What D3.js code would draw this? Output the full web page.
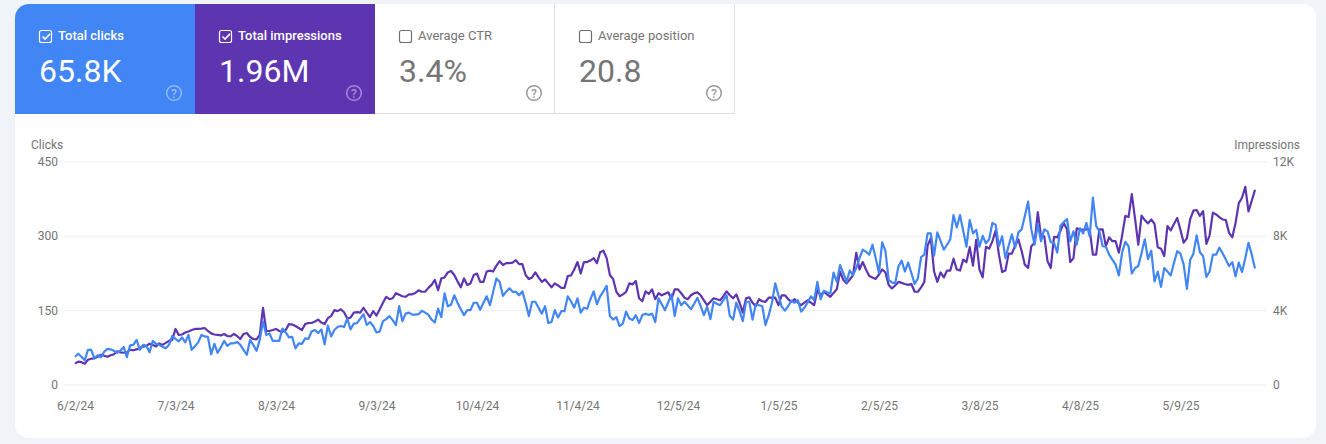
<!DOCTYPE html>
<html><head><meta charset="utf-8">
<script src="https://cdn.jsdelivr.net/npm/d3@7"></script>
<style>html,body{margin:0;padding:0;background:#f0f4f9;overflow:hidden}svg{display:block;font-family:Roboto,sans-serif}</style>
</head><body><svg id="c" width="1326" height="444"></svg>
<script>
const startDate = "2024-06-02";
const clicks = [
56,62,56,49,70,70,53,59,55,66,
72,71,68,64,68,76,55,79,80,90,
70,80,78,65,88,82,80,76,73,80,
98,92,87,95,85,100,70,77,85,100,
97,96,61,82,64,75,88,78,83,83,
86,80,70,60,90,80,68,90,127,100,
103,88,88,88,113,105,95,96,73,83,
82,93,92,107,110,104,111,81,119,97,
110,116,118,116,133,111,123,124,133,142,
120,126,118,105,107,128,132,138,130,120,
158,128,143,145,141,141,142,149,145,141,
131,125,153,136,184,158,161,180,165,152,
140,150,150,165,165,151,165,178,160,187,
214,207,179,187,194,187,187,180,188,165,
138,167,167,155,143,158,124,126,150,135,
148,148,178,168,155,174,145,155,153,172,
188,162,178,188,199,138,131,136,118,123,
147,133,130,140,124,140,143,140,143,126,
174,162,150,166,182,138,174,160,167,160,
152,163,175,158,140,157,132,167,163,160,
170,180,138,131,165,148,128,167,167,131,
162,160,158,120,140,165,204,180,157,149,
158,169,165,170,147,155,165,178,170,207,
172,189,186,184,226,207,241,225,207,230,
221,235,255,272,268,262,282,255,225,287,
269,211,206,204,238,250,228,246,225,203,
214,257,262,305,305,260,307,290,272,282,
293,342,317,342,310,278,332,305,312,278,
300,285,293,326,322,279,299,255,280,303,
276,307,313,340,369,313,282,323,289,313,
309,287,286,266,320,328,334,289,309,282,
315,305,326,299,377,320,309,279,278,262,
252,242,220,266,288,279,224,235,239,265,
293,253,270,208,228,197,235,228,220,245,
269,264,242,193,251,264,301,267,259,217,
228,262,262,276,265,252,239,247,218,246,
227,255,286,262,234];
const impressions = [
1120,1230,1200,1120,1330,1390,1410,1490,1600,1550,
1490,1570,1630,1790,1730,1710,1730,1870,1840,1890,
1970,2030,2080,2190,2130,2050,2210,2130,2240,2350,
2400,2990,2670,2690,2800,2850,2930,2990,2990,3010,
3040,2880,2750,2690,2670,2640,2720,2610,2590,2720,
2610,2450,2720,2770,2560,2450,2430,2670,4130,2880,
2880,2930,2990,2880,2830,2930,3250,3230,3150,3040,
2930,3250,3310,3310,3390,3490,3330,3250,3570,3680,
4000,3950,4050,3890,3550,3600,3870,3890,3870,4130,
3870,3630,3950,3710,4050,4400,4720,4590,4640,4910,
4830,4750,4720,4850,4850,4930,5070,4990,4990,5200,
5360,5630,5070,5710,5760,6030,6110,5890,5550,5230,
5710,5360,5440,5890,5970,5520,5520,6080,6130,6080,
6400,6640,6430,6530,6530,6560,6690,6480,6480,5890,
5680,5760,6030,5760,5520,5650,5440,5230,5440,5330,
5200,5200,5840,5870,6190,6590,5970,6590,6590,6670,
6800,6530,7120,7200,6800,5890,5680,4990,4750,4850,
4990,5440,5390,5570,4640,4480,5010,4880,5120,4590,
4910,4800,4880,4960,4590,5120,5120,4910,4670,4590,
4800,4910,4960,4800,4530,4270,4450,4640,4590,4530,
4750,5010,4800,4640,4850,4400,3870,4640,4690,4400,
4210,4590,4480,4450,4670,4670,4670,4270,4800,4800,
4590,4450,4590,4400,4270,4400,4530,4400,4270,5070,
4800,4990,4850,4720,4930,5120,6080,5630,5440,5650,
5890,7090,6190,6590,6190,5840,5760,5680,5920,6190,
6030,5360,5170,5330,5520,5470,5410,5360,5410,4990,
4990,5230,5520,7470,7870,6080,5520,6030,5760,6130,
6130,6770,6190,6130,6720,6590,7390,6400,7790,6190,
5760,7410,7310,7710,8290,6990,6050,6130,7040,7040,
7470,7810,7200,6450,6270,7440,7630,9280,7970,7970,
6640,6270,7950,7920,8270,8690,8350,6590,6800,8400,
8350,8320,8350,8350,6990,6990,8350,8350,7440,7920,
7710,7710,7090,8000,9070,9010,10240,8930,7520,9090,
8850,8670,8880,8640,7390,7310,6910,8530,8290,8640,
8960,8320,7630,7870,8880,9360,9390,9070,9330,7570,
8030,9250,9150,9010,8880,8850,8160,7920,8690,9760,
10050,10640,9310,9890,10480];
const dateTicks = ["2024-06-02","2024-07-03","2024-08-03","2024-09-03","2024-10-04","2024-11-04","2024-12-05","2025-01-05","2025-02-05","2025-03-08","2025-04-08","2025-05-09"];
const clickTicks = [0,150,300,450];
const impressionTicks = [0,4000,8000,12000];
const metricNames = ["Total clicks","Total impressions","Average CTR","Average position"];
const metricValues = ["65.8K","1.96M","3.4%","20.8"];
const metricOn = [true,true,false,false];
const metricFill = ["#4285f4","#5e35b1","#ffffff","#ffffff"];

const BLUE="#4285f4", PURPLE="#5e35b1", GREY="#757575", GRID="#eceef0";
const svg=d3.select("#c");
const parse=d3.utcParse("%Y-%m-%d");
const fmt=d3.utcFormat("%-m/%-d/%y");
const t0=parse(startDate);
const dateAt=i=>d3.utcDay.offset(t0,i);

// card
svg.append("defs").append("clipPath").attr("id","card").append("rect")
  .attr("x",15).attr("y",4).attr("width",1301).attr("height",434).attr("rx",14);
svg.append("rect").attr("x",15).attr("y",4).attr("width",1301).attr("height",434).attr("rx",14).attr("fill","#fff");

// metric tabs
const tabW=180,tabH=110;
const tabs=svg.append("g").attr("clip-path","url(#card)").selectAll("g").data(metricNames).join("g")
  .attr("transform",(d,i)=>`translate(${15+i*tabW},4)`);
tabs.append("rect").attr("width",tabW).attr("height",tabH).attr("fill",(d,i)=>metricFill[i]);
tabs.filter((d,i)=>!metricOn[i]).append("path")
  .attr("d",`M${tabW-.5},0V${tabH-.5}H0`).attr("fill","none").attr("stroke","#e0e0e0").attr("stroke-width",1);
tabs.append("rect").attr("x",24.5).attr("y",26.5).attr("width",12).attr("height",12).attr("rx",2)
  .attr("fill","none").attr("stroke",(d,i)=>metricOn[i]?"#fff":"#6f6f6f").attr("stroke-width",1.2);
tabs.filter((d,i)=>metricOn[i]).append("path").attr("d","M27.5,32.5l2.5,2.6l5,-5.2")
  .attr("fill","none").attr("stroke","#fff").attr("stroke-width",1.6);
tabs.append("text").attr("x",43).attr("y",36).attr("font-size",13).attr("font-weight",(d,i)=>metricOn[i]?500:400)
  .attr("fill",(d,i)=>metricOn[i]?"#fff":GREY).text(d=>d);
tabs.append("text").attr("x",24).attr("y",77.5).attr("font-size",32)
  .attr("fill",(d,i)=>metricOn[i]?"#fff":GREY).text((d,i)=>metricValues[i]);
tabs.append("circle").attr("cx",159).attr("cy",89).attr("r",7.3)
  .attr("fill","none").attr("stroke",(d,i)=>metricOn[i]?"rgba(255,255,255,.42)":"#9a9a9a").attr("stroke-width",1.5);
tabs.append("text").attr("x",159).attr("y",93.5).attr("text-anchor","middle").attr("font-size",12).attr("font-weight",500)
  .attr("fill",(d,i)=>metricOn[i]?"rgba(255,255,255,.45)":"#9a9a9a").text("?");

// scales
const x=d3.scaleUtc().domain([t0,dateAt(clicks.length-1)]).range([75,1255]);
const yL=d3.scaleLinear().domain([0,450]).range([384.5,161.5]);
const yR=d3.scaleLinear().domain([0,12000]).range([384.5,161.5]);

// grid
const grid=svg.append("g").attr("transform","translate(64,0)")
  .call(d3.axisRight(yL).tickValues(clickTicks).tickSize(1203).tickFormat(""));
grid.select(".domain").remove();
grid.selectAll("line").attr("stroke",GRID).attr("stroke-width",1);

// axes
function style(g){
  g.select(".domain").remove();
  g.selectAll("text").attr("fill",GREY).attr("font-size",12).attr("font-family","Roboto,sans-serif");
}
svg.append("g").attr("transform","translate(64,0)")
  .call(d3.axisLeft(yL).tickValues(clickTicks).tickSize(0).tickPadding(6)).call(style);
svg.append("g").attr("transform","translate(1267,0)")
  .call(d3.axisRight(yR).tickValues(impressionTicks).tickSize(0).tickPadding(6)
    .tickFormat(d=>d===0?"0":(d/1000)+"K")).call(style);
svg.append("g").attr("transform","translate(0,394)")
  .call(d3.axisBottom(x).tickValues(dateTicks.map(parse)).tickSize(0).tickPadding(7).tickFormat(fmt)).call(style);

svg.append("text").attr("x",31).attr("y",149).attr("font-size",12).attr("fill",GREY).text("Clicks");
svg.append("text").attr("x",1300).attr("y",149).attr("text-anchor","end").attr("font-size",12).attr("fill",GREY).text("Impressions");

// lines
const lineI=d3.line().x((d,i)=>x(dateAt(i))).y(d=>yR(d));
const lineC=d3.line().x((d,i)=>x(dateAt(i))).y(d=>yL(d));
svg.append("path").datum(impressions).attr("d",lineI).attr("fill","none").attr("stroke",PURPLE).attr("stroke-width",2.2).attr("stroke-linejoin","round");
svg.append("path").datum(clicks).attr("d",lineC).attr("fill","none").attr("stroke",BLUE).attr("stroke-width",2.2).attr("stroke-linejoin","round");
</script></body></html>
